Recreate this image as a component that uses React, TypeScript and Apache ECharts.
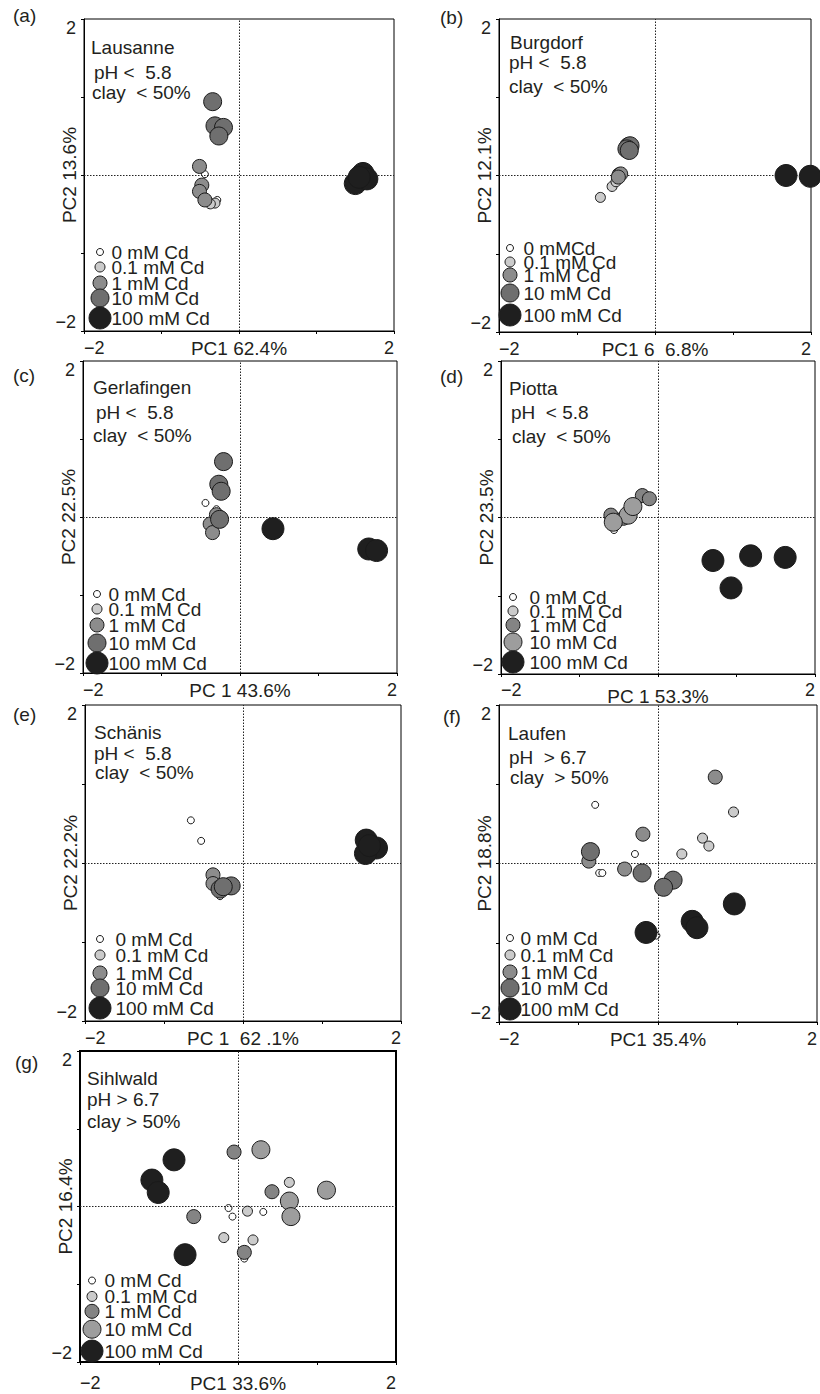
import React, { useEffect, useRef } from 'react';
import * as echarts from 'echarts';

// ---------- data ----------
const concentrations = ['0 mM Cd', '0.1 mM Cd', '1 mM Cd', '10 mM Cd', '100 mM Cd'];
const legendLabelsBurgdorf = ['0 mMCd', '0.1 mM Cd', '1 mM Cd', '10 mM Cd', '100 mM Cd'];
const xTickLabels = ['−2', '2'];
const yTickLabels = ['−2', '2'];
const panelTags = ['(a)', '(b)', '(c)', '(d)', '(e)', '(f)', '(g)'];
const pc1Labels = ['PC1 62.4%', 'PC1 6  6.8%', 'PC 1 43.6%', 'PC 1 53.3%', 'PC 1  62 .1%', 'PC1 35.4%', 'PC1 33.6%'];
const pc2Labels = ['PC2 13.6%', 'PC2 12.1%', 'PC2 22.5%', 'PC2 23.5%', 'PC2 22.2%', 'PC2 18.8%', 'PC2 16.4%'];
const siteLines = [
  ['Lausanne', 'pH <  5.8', 'clay  < 50%'],
  ['Burgdorf', 'pH <  5.8', 'clay  < 50%'],
  ['Gerlafingen', 'pH <  5.8', 'clay  < 50%'],
  ['Piotta', 'pH  < 5.8', 'clay  < 50%'],
  ['Schänis', 'pH <  5.8', 'clay  < 50%'],
  ['Laufen', 'pH  > 6.7', 'clay  > 50%'],
  ['Sihlwald', 'pH > 6.7', 'clay > 50%'],
];

// each site: [0 mM, 0.1 mM, 1 mM, 10 mM, 100 mM] -> [PC1, PC2] scores
const lausanne = [
  [[-0.44, 0.01], [-0.28, -0.32]],
  [[-0.31, -0.36], [-0.37, -0.37]],
  [[-0.51, 0.11], [-0.48, -0.13], [-0.51, -0.21], [-0.44, -0.32]],
  [[-0.34, 0.94], [-0.31, 0.63], [-0.2, 0.61], [-0.26, 0.5]],
  [[1.5, -0.11], [1.6, 0.02], [1.65, -0.05], [1.55, -0.03]],
];
const burgdorf = [
  [[-0.46, -0.04]],
  [[-0.55, -0.14], [-0.7, -0.28], [-0.5, -0.08]],
  [[-0.46, 0.01], [-0.44, 0.02], [-0.47, -0.02]],
  [[-0.34, 0.37], [-0.32, 0.38], [-0.36, 0.34], [-0.33, 0.32]],
  [[1.68, 0.0], [1.99, -0.01]],
];
const gerlafingen = [
  [[-0.44, 0.18], [-0.3, 0.1]],
  [[-0.31, 0.04]],
  [[-0.38, -0.09], [-0.35, -0.2], [-0.3, 0.03]],
  [[-0.26, -0.03], [-0.21, 0.71], [-0.27, 0.42], [-0.24, 0.33]],
  [[0.42, -0.15], [1.64, -0.41], [1.74, -0.43]],
];
const piotta = [
  [[-0.56, -0.16]],
  [[-0.47, 0.0]],
  [[-0.2, 0.28], [-0.11, 0.24], [-0.6, 0.03], [-0.44, -0.01]],
  [[-0.38, 0.03], [-0.32, 0.14], [-0.57, -0.06]],
  [[0.7, -0.55], [1.18, -0.49], [1.62, -0.51], [0.93, -0.9]],
];
const schanis = [
  [[-0.66, 0.54], [-0.53, 0.28], [-0.29, -0.42]],
  [[-0.33, -0.3]],
  [[-0.38, -0.15], [-0.38, -0.26]],
  [[-0.15, -0.29], [-0.29, -0.33], [-0.25, -0.3]],
  [[1.56, 0.29], [1.69, 0.19], [1.55, 0.12], [1.6, 0.22]],
];
const laufen = [
  [[-0.79, 0.74], [-0.29, 0.12], [-0.74, -0.12], [-0.7, -0.12], [-0.02, -0.91], [-0.91, 0.15]],
  [[0.95, 0.65], [0.56, 0.32], [0.64, 0.22], [0.3, 0.12]],
  [[0.72, 1.09], [-0.19, 0.37], [-0.42, -0.07], [-0.87, 0.03]],
  [[-0.85, 0.15], [-0.2, -0.12], [0.19, -0.21], [0.07, -0.3]],
  [[0.96, -0.51], [0.43, -0.73], [0.49, -0.81], [-0.15, -0.87]],
];
const sihlwald = [
  [[-0.12, -0.02], [-0.07, -0.13], [0.32, -0.07], [0.08, -0.67]],
  [[0.65, 0.31], [0.12, -0.06], [-0.18, -0.4], [0.19, -0.43]],
  [[-0.05, 0.7], [0.43, 0.19], [-0.56, -0.13], [0.08, -0.59]],
  [[0.29, 0.73], [0.65, 0.07], [0.67, -0.13], [1.12, 0.21]],
  [[-0.81, 0.6], [-1.09, 0.34], [-1.01, 0.18], [-0.67, -0.62]],
];
const sites = [lausanne, burgdorf, gerlafingen, piotta, schanis, laufen, sihlwald];

// ---------- styles / layout ----------
const FONT = '"Liberation Sans", Arial, Helvetica, sans-serif';
const INK = '#231f20';
const defaultFills = ['#ffffff', '#cbcbcb', '#8c8c8c', '#6f6f6f', '#1f1f1f'];
const lightTenFills = ['#ffffff', '#cbcbcb', '#848484', '#9d9d9d', '#1f1f1f'];
const symbolSizes = [7, 10, 14, 18, 22];

type Layout = {
  left: number; top: number; width: number; height: number;
  tag: [number, number]; textX: number[]; textY: number[];
  legendCx: number; legendTx: number; legendRows: number[];
  xMargin: number; xNameGap: number; border: number; fills: string[];
};

const layouts: Layout[] = [
  { left: 84, top: 19, width: 310, height: 312, tag: [13, 15], textX: [7, 10, 8], textY: [28, 53, 73], legendCx: 16, legendTx: 27, legendRows: [79, 64, 48, 33, 13], xMargin: 8, xNameGap: 8, border: 1, fills: defaultFills },
  { left: 499, top: 19, width: 312, height: 313, tag: [440, 17], textX: [11, 10, 10], textY: [23, 43, 67], legendCx: 11, legendTx: 24, legendRows: [84, 70, 57, 39, 17], xMargin: 8, xNameGap: 8, border: 1, fills: defaultFills },
  { left: 83, top: 361, width: 314, height: 312, tag: [13, 375], textX: [10, 13, 10], textY: [26, 51, 74], legendCx: 14, legendTx: 25, legendRows: [79, 64, 48, 30, 10], xMargin: 8, xNameGap: 8, border: 1, fills: defaultFills },
  { left: 501, top: 361, width: 314, height: 313, tag: [440, 376], textX: [8, 10, 11], textY: [27, 51, 75], legendCx: 12, legendTx: 28, legendRows: [77, 63, 49, 32, 12], xMargin: 7, xNameGap: 13, border: 1, fills: lightTenFills },
  { left: 85, top: 705, width: 316, height: 316, tag: [13, 714], textX: [9, 9, 10], textY: [27, 48, 67], legendCx: 15, legendTx: 30, legendRows: [82, 66, 48, 33, 13], xMargin: 8, xNameGap: 8, border: 1, fills: defaultFills },
  { left: 499, top: 705, width: 318, height: 317, tag: [443, 716], textX: [9, 10, 11], textY: [28, 52, 72], legendCx: 11, legendTx: 21, legendRows: [84, 67, 50, 34, 13], xMargin: 8, xNameGap: 8, border: 1, fills: defaultFills },
  { left: 80, top: 1051, width: 316, height: 313, tag: [15, 1062], textX: [7, 7, 7], textY: [27, 48, 70], legendCx: 12, legendTx: 24, legendRows: [82, 66, 51, 33, 11], xMargin: 12, xNameGap: 12, border: 2, fills: lightTenFills },
];

function buildOption() {
  const grid: any[] = [];
  const xAxis: any[] = [];
  const yAxis: any[] = [];
  const series: any[] = [];
  const graphic: any[] = [];
  const textBase = { fontFamily: FONT, color: INK };

  layouts.forEach((L, i) => {
    grid.push({
      left: L.left, top: L.top, width: L.width, height: L.height,
      show: true, borderColor: '#000', borderWidth: L.border, backgroundColor: 'transparent',
    });
    xAxis.push({
      gridIndex: i, type: 'value', min: -2, max: 2, interval: 1,
      name: pc1Labels[i], nameLocation: 'middle', nameGap: L.xNameGap, nameMoveOverlap: false,
      nameTextStyle: { ...textBase, fontSize: 19, verticalAlign: 'top' },
      axisLine: { show: true, onZero: false, lineStyle: { color: '#000', width: L.border } },
      axisTick: { show: true, length: 3, lineStyle: { color: '#000', width: 1 } },
      splitLine: { show: false },
      axisLabel: {
        ...textBase, fontSize: 18, margin: L.xMargin,
        showMinLabel: true, showMaxLabel: true,
        alignMinLabel: 'left', alignMaxLabel: 'right',
        formatter: (v: number) => (v === -2 ? xTickLabels[0] : v === 2 ? xTickLabels[1] : ''),
      },
    });
    yAxis.push({
      gridIndex: i, type: 'value', min: -2, max: 2, interval: 1,
      name: pc2Labels[i], nameLocation: 'middle', nameGap: 5, nameMoveOverlap: false,
      nameTextStyle: { ...textBase, fontSize: 19 },
      axisLine: { show: true, onZero: false, lineStyle: { color: '#000', width: L.border } },
      axisTick: { show: true, length: 3, lineStyle: { color: '#000', width: 1 } },
      splitLine: { show: false },
      axisLabel: {
        ...textBase, fontSize: 18, margin: 8,
        showMinLabel: true, showMaxLabel: true,
        verticalAlignMinLabel: 'bottom', verticalAlignMaxLabel: 'top',
        formatter: (v: number) => (v === -2 ? yTickLabels[0] : v === 2 ? yTickLabels[1] : ''),
      },
    });

    // dotted zero lines
    series.push({
      type: 'scatter', xAxisIndex: i, yAxisIndex: i, data: [], silent: true, z: 1,
      markLine: {
        silent: true, symbol: ['none', 'none'], label: { show: false },
        lineStyle: { color: '#222', width: 1, type: [1.5, 1.5] },
        emphasis: { disabled: true },
        data: [{ xAxis: 0 }, { yAxis: 0 }],
      },
    });

    // data points
    sites[i].forEach((pts, k) => {
      series.push({
        type: 'scatter', name: concentrations[k], xAxisIndex: i, yAxisIndex: i,
        data: pts, symbol: 'circle', symbolSize: symbolSizes[k], silent: true, clip: false,
        z: 3 + k,
        itemStyle: { color: L.fills[k], borderColor: '#1a1a1a', borderWidth: 1, opacity: 1 },
      });
    });

    // legend (drawn inside the plot, lower-left)
    const labels = i === 1 ? legendLabelsBurgdorf : concentrations;
    series.push({
      type: 'scatter', xAxisIndex: i, yAxisIndex: i, silent: true, clip: false, z: 10,
      itemStyle: { opacity: 1 },
      data: labels.map((lab, k) => ({
        value: [-2 + (4 * L.legendCx) / L.width, -2 + (4 * L.legendRows[k]) / L.height],
        symbol: 'circle',
        symbolSize: symbolSizes[k],
        itemStyle: { color: L.fills[k], borderColor: '#1a1a1a', borderWidth: 1, opacity: 1 },
        label: {
          show: true, position: 'right', formatter: lab,
          distance: L.legendTx - L.legendCx - symbolSizes[k] / 2,
          ...textBase, fontSize: 19, lineHeight: 13, opacity: 1,
        },
      })),
    });

    // panel tag
    graphic.push({
      type: 'text', x: L.tag[0], y: L.tag[1], silent: true,
      style: { text: panelTags[i], fill: INK, fontSize: 19, fontFamily: FONT, verticalAlign: 'middle', align: 'left' },
    });
    // site description
    siteLines[i].forEach((t, j) => {
      graphic.push({
        type: 'text', x: L.left + L.textX[j], y: L.top + L.textY[j], silent: true, z: 20,
        style: { text: t, fill: INK, fontSize: 19, fontFamily: FONT, verticalAlign: 'middle', align: 'left' },
      });
    });
  });

  return {
    animation: false,
    backgroundColor: '#ffffff',
    grid, xAxis, yAxis, series, graphic,
  };
}

export default function App() {
  const ref = useRef<HTMLDivElement>(null);
  useEffect(() => {
    if (!ref.current) return;
    const chart = echarts.init(ref.current, undefined, { renderer: 'svg' });
    chart.setOption(buildOption() as any);
    return () => chart.dispose();
  }, []);
  return (
    <div
      ref={ref}
      style={{ position: 'absolute', left: 0, top: 0, width: 820, height: 1394, background: '#fff' }}
    />
  );
}
